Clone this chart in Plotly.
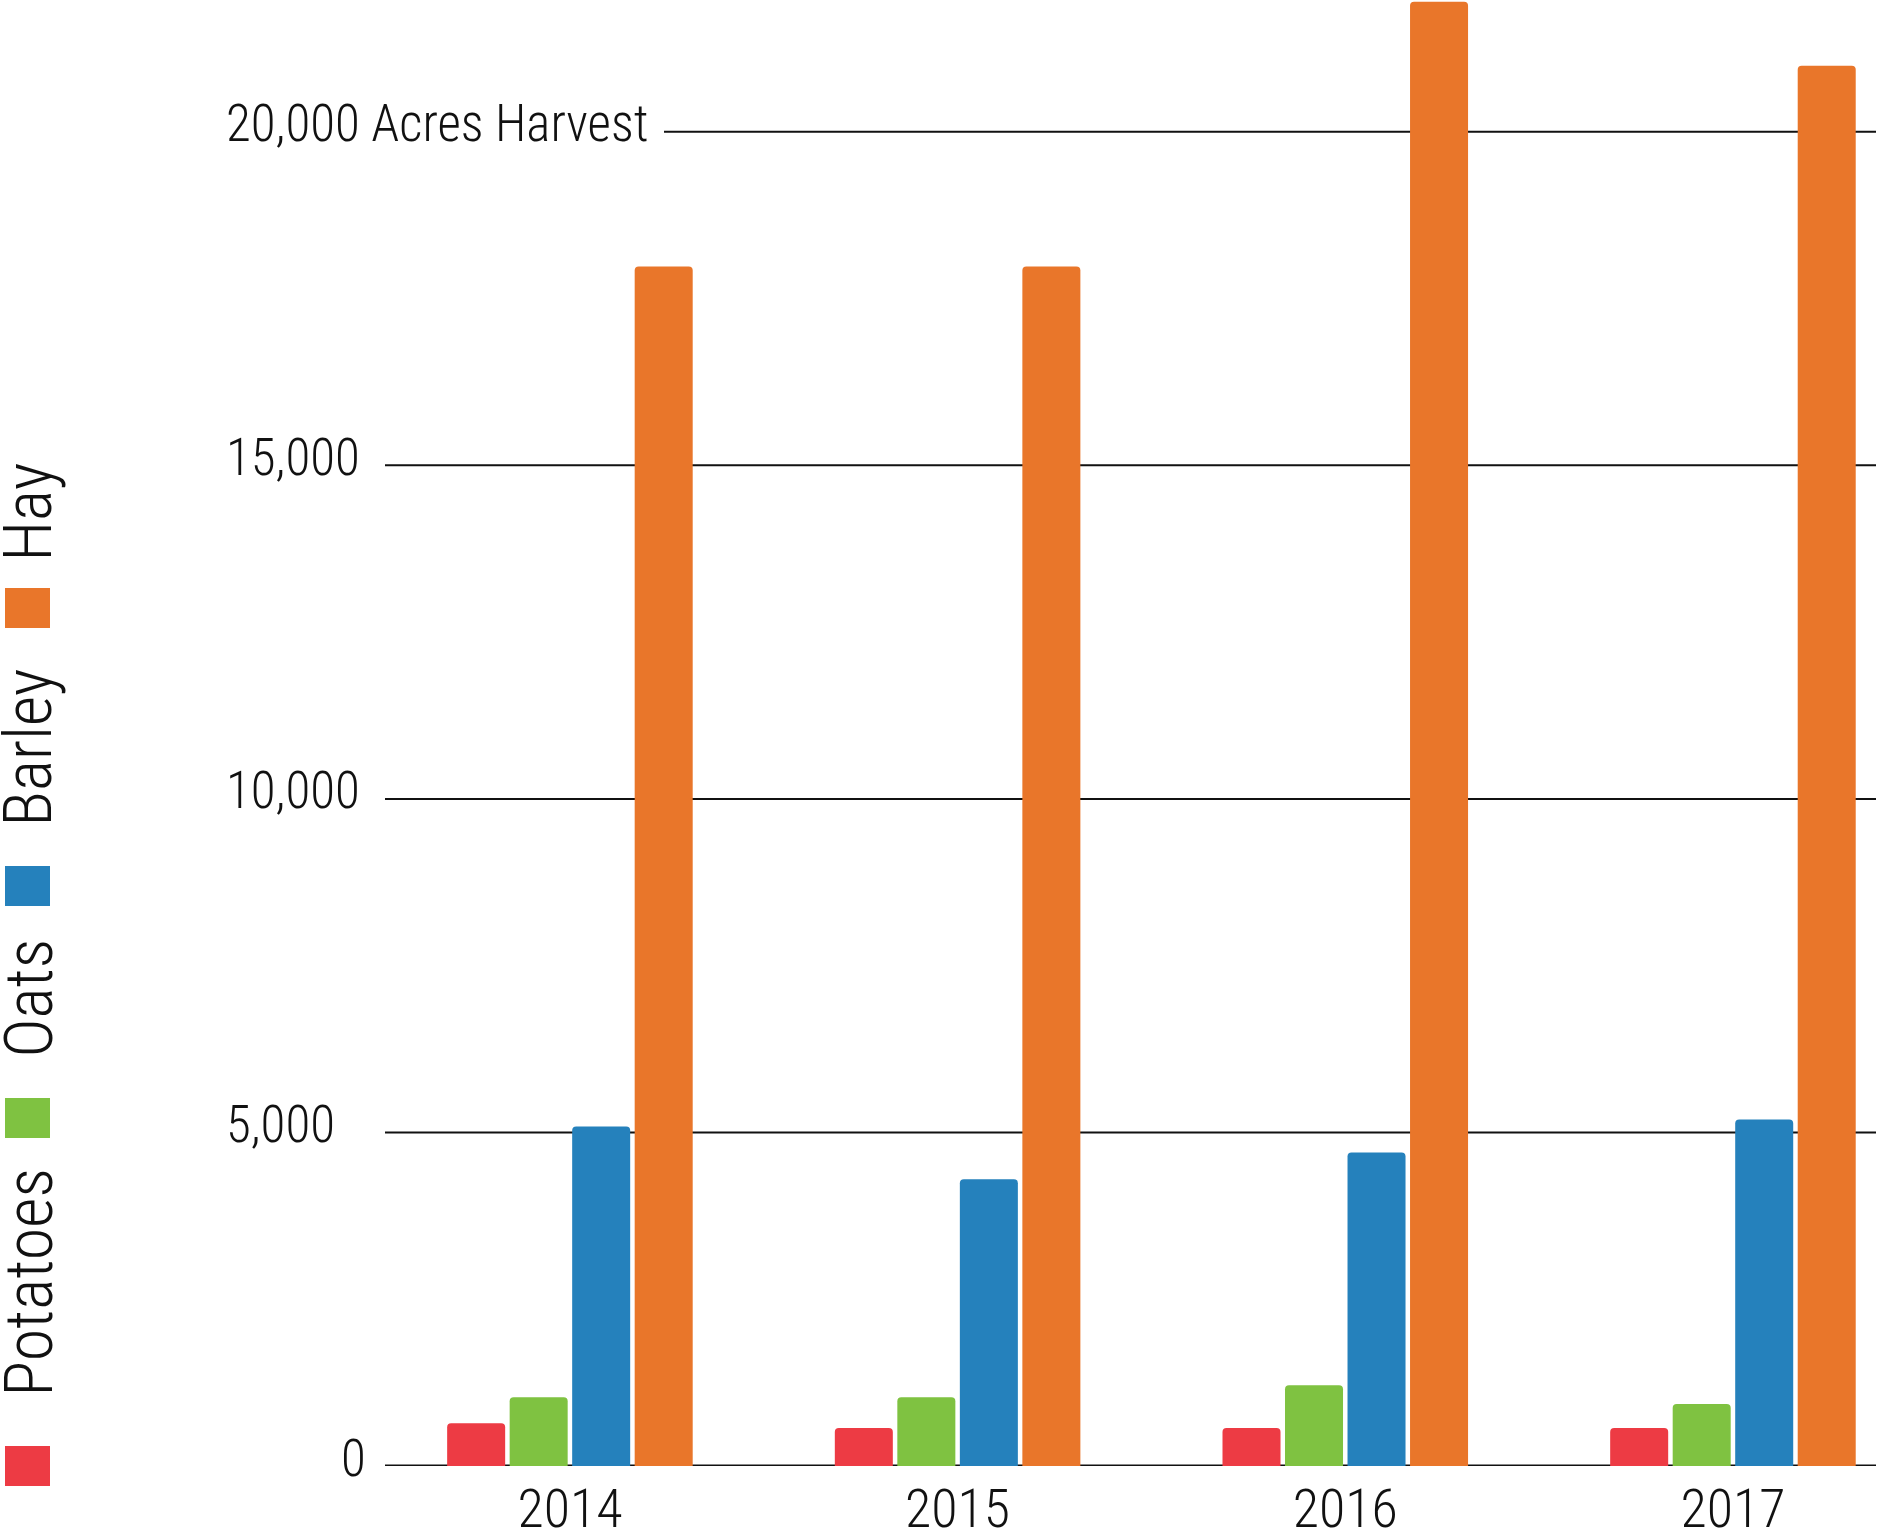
import plotly.graph_objects as go

# Acres harvested by crop and year
years = ["2014", "2015", "2016", "2017"]
crops = ["Potatoes", "Oats", "Barley", "Hay"]
potatoes = [640, 570, 570, 570]
oats = [1030, 1030, 1210, 930]
barley = [5090, 4300, 4700, 5195]
hay = [17980, 17980, 21950, 20990]

y_tick_vals = [0, 5000, 10000, 15000, 20000]
y_tick_text = ["0", "5,000", "10,000", "15,000", "20,000 Acres Harvest"]

colors = ["#ED3B44", "#7FC241", "#2581BC", "#E9762A"]
series = [potatoes, oats, barley, hay]

FONT = "'Roboto Condensed', 'DejaVu Sans Condensed', 'Open Sans'"
W, H = 1882, 1531
L, R, T, B = 385, 6, 0, 65
PW, PH = W - L - R, H - T - B


def px_x(px):
    return (px - L) / PW


def px_y(py):
    return (H - B - py) / PH


fig = go.Figure()
for name, vals, col in zip(crops, series, colors):
    fig.add_trace(go.Bar(
        x=years,
        y=vals,
        name=name,
        marker=dict(color=col, cornerradius=4, line=dict(width=0)),
    ))

# horizontal rules (20,000 one leaves room for its long label)
for v in y_tick_vals:
    fig.add_shape(
        type="line", xref="paper", yref="y",
        x0=px_x(664) if v == 20000 else 0, x1=1, y0=v, y1=v,
        line=dict(color="#111111", width=3 if v == 0 else 2),
        layer="below",
    )

# y labels, left aligned like the original
for v, t in zip(y_tick_vals, y_tick_text):
    fig.add_annotation(
        text=t, xref="paper", yref="y", y=v,
        x=px_x(368) if v == 0 else px_x(224),
        xanchor="right" if v == 0 else "left",
        yanchor="middle", yshift=8, showarrow=False,
        font=dict(family=FONT, size=51, color="#111111", weight=300),
    )

# vertical legend on the left, read bottom to top
sq_centers = [1466, 1118, 886, 608]
txt_centers = [1283, 998, 748, 512]
for name, col, sc, tc in zip(crops, colors, sq_centers, txt_centers):
    fig.add_shape(
        type="rect", xref="paper", yref="paper",
        x0=px_x(5), x1=px_x(50), y0=px_y(sc + 20), y1=px_y(sc - 20),
        fillcolor=col, line=dict(width=0),
    )
    fig.add_annotation(
        text=name, xref="paper", yref="paper",
        x=px_x(-12), y=px_y(tc), xanchor="left", yanchor="middle",
        textangle=-90, showarrow=False,
        font=dict(family=FONT, size=66, color="#111111", weight=300),
    )

fig.update_layout(
    width=W,
    height=H,
    margin=dict(l=L, r=R, t=T, b=B),
    barmode="group",
    bargap=0.355,
    bargroupgap=0.072,
    plot_bgcolor="white",
    paper_bgcolor="white",
    showlegend=False,
    font=dict(family=FONT, color="#111111", weight=300),
    xaxis=dict(
        range=[-0.477, 3.369],
        automargin=False,
        showgrid=False, zeroline=False, showline=False,
        ticks="", ticklabelstandoff=6,
        tickfont=dict(family=FONT, size=54, color="#111111", weight=300),
    ),
    yaxis=dict(
        range=[0, 21975],
        automargin=False,
        showgrid=False, zeroline=False, showline=False,
        showticklabels=False, ticks="",
    ),
)

# drop the default page margin so the figure sits flush in the window
fig.write_html(
    "out.html",
    config={"displayModeBar": False},
    post_script="document.body.style.margin='0';document.body.style.overflow='hidden';",
)
